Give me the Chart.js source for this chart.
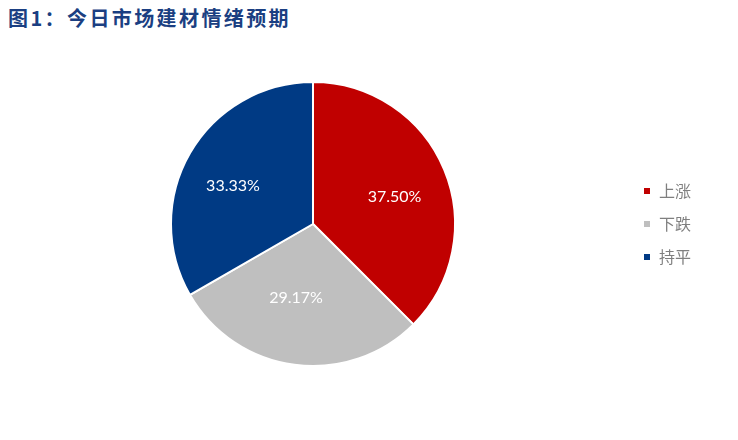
<!DOCTYPE html>
<html>
<head>
<meta charset="utf-8">
<script src="https://cdn.jsdelivr.net/npm/chart.js@4.4.1/dist/chart.umd.min.js"></script>
<style>
  html, body { margin: 0; padding: 0; background: #ffffff; }
  #wrap { position: relative; width: 738px; height: 440px; }
  #title {
    position: absolute; left: 8px; top: 3px;
    font-family: "Noto Sans CJK SC", sans-serif; font-weight: 700;
    font-size: 20px; letter-spacing: 2.4px; color: #1B3F82; white-space: nowrap;
  }
  canvas { position: absolute; left: 0; top: 0; }
</style>
</head>
<body>
<div id="wrap">
  <div id="title">图1：今日市场建材情绪预期</div>
  <canvas id="c" width="738" height="440"></canvas>
</div>
<script>
// Market sentiment shares (%)
const categories = ['上涨', '下跌', '持平'];
const shares = [37.50, 29.17, 33.33];
const sliceColors = ['#C00000', '#BFBFBF', '#003A84'];

// Per-slice label placement: fraction of the radius and angular nudge (degrees)
const labelRadius = [0.605, 0.535, 0.624];
const labelNudge = [4.2, 5.4, -4.6];

const sliceLabels = {
  id: 'sliceLabels',
  afterDatasetsDraw(chart) {
    const { ctx } = chart;
    const meta = chart.getDatasetMeta(0);
    ctx.save();
    ctx.font = '16px Lato, "Liberation Sans", sans-serif';
    ctx.fillStyle = '#FFFFFF';
    ctx.textAlign = 'center';
    ctx.textBaseline = 'middle';
    meta.data.forEach((arc, i) => {
      const p = arc.getProps(['x', 'y', 'startAngle', 'endAngle', 'outerRadius'], true);
      const a = (p.startAngle + p.endAngle) / 2 + labelNudge[i] * Math.PI / 180;
      const r = p.outerRadius * labelRadius[i];
      ctx.fillText(shares[i].toFixed(2) + '%', p.x + Math.cos(a) * r, p.y + Math.sin(a) * r);
    });
    ctx.restore();
  }
};

new Chart(document.getElementById('c'), {
  type: 'pie',
  data: {
    labels: categories,
    datasets: [{
      data: shares,
      backgroundColor: sliceColors,
      borderColor: '#FFFFFF',
      borderWidth: 2
    }]
  },
  options: {
    responsive: false,
    animation: false,
    layout: { padding: { top: 81, bottom: 73, left: 0, right: 37 } },
    plugins: {
      title: { display: false },
      tooltip: { enabled: false },
      legend: {
        position: 'right',
        align: 'center',
        labels: {
          boxWidth: 8,
          boxHeight: 8,
          padding: 17,
          color: '#7F7F7F',
          font: { family: '"Noto Sans CJK SC", sans-serif', size: 16, lineHeight: 0.9 }
        }
      }
    }
  },
  plugins: [sliceLabels]
});
</script>
</body>
</html>
